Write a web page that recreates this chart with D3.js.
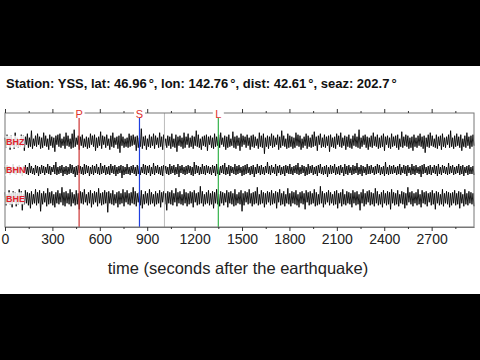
<!DOCTYPE html>
<html><head><meta charset="utf-8">
<script src="https://cdn.jsdelivr.net/npm/d3@7"></script>
<style>html,body{margin:0;padding:0;background:#000;}svg{display:block;}</style>
</head><body>
<script>
const titleParts = ["Station: YSS, lat: 46.96", "°", ", lon: 142.76", "°", ", dist: 42.61", "°", ", seaz: 202.7", "°"];
const xLabel = "time (seconds after the earthquake)";
const timeEnd = 2968;
const majorTicks = [0, 300, 600, 900, 1200, 1500, 1800, 2100, 2400, 2700];
const minorTicks = [150, 450, 750, 1050, 1350, 1650, 1950, 2250, 2550, 2850];
const channels = ["BHZ", "BHN", "BHE"];
const phaseNames = ["P", "S", "L"];
const phaseTimes = [469, 851, 1350];
const markerTime = 1009;

const bhz = [
4,-6,7,-3,5,-8,6,-4,3,-7,9,-5,4,-6,2,-5,7,-4,6,-9,
5,-3,8,-6,4,-5,11,-7,3,-4,6,-5,8,-3,5,-7,4,-6,9,-4,
6,-5,3,-8,7,-4,5,-6,4,-10,6,-3,7,-5,8,-6,3,-4,5,-7,
9,-4,6,-5,3,-7,8,-6,12,-5,4,-3,6,-8,5,-4,7,-6,3,-5,
5,-7,4,-6,8,-3,6,-5,7,-9,4,-6,5,-4,10,-7,6,-3,5,-6,
7,-4,3,-8,6,-5,9,-6,4,-3,5,-7,6,-11,8,-4,5,-6,3,-5,
4,-6,8,-5,6,-4,7,-3,5,-9,6,-6,4,-5,13,-7,5,-4,6,-8,
3,-5,7,-6,5,-4,8,-7,6,-3,4,-6,9,-5,5,-8,7,-4,3,-6,
6,-4,5,-7,8,-5,3,-6,7,-10,5,-4,6,-5,4,-7,9,-6,5,-3,
8,-6,4,-5,6,-7,5,-4,11,-5,7,-6,3,-8,5,-4,6,-5,7,-9,
5,-3,6,-6,4,-7,8,-5,5,-4,7,-6,9,-3,4,-5,6,-8,5,-6,
7,-5,3,-4,10,-6,5,-7,6,-4,4,-9,8,-5,6,-3,5,-6,7,-4,
4,-8,6,-5,7,-6,5,-4,3,-7,9,-5,6,-6,8,-12,4,-5,6,-7,
5,-4,8,-6,6,-5,4,-3,7,-8,5,-6,11,-4,6,-5,3,-7,8,-6,
6,-5,5,-7,4,-6,9,-4,7,-5,6,-8,3,-6,5,-4,8,-7,6,-5,
4,-6,7,-5,10,-4,5,-9,6,-3,8,-6,4,-5,7,-6,5,-4,6,-10,
7,-5,4,-6,5,-7,8,-3,6,-5,9,-6,4,-4,6,-8,5,-5,7,-6,
3,-7,6,-4,8,-5,5,-6,12,-7,4,-5,6,-3,7,-6,5,-8,4,-5,
6,-6,9,-4,5,-5,7,-7,4,-6,6,-5,8,-9,5,-3,6,-6,4,-7,
8,-5,5,-4,6,-6,7,-8,3,-5,10,-6,5,-4,7,-5,6,-7,4,-6,
5,-9,7,-5,4,-6,6,-4,8,-5,5,-7,6,-11,4,-5,7,-6,9,-4,
6,-5,3,-6,7,-7,5,-4,6,-8,8,-5,4,-6,5,-3,7,-6,11,-5,
4,-7,6,-5,8,-4,5,-6,7,-9,3,-5,6,-6,9,-4,5,-7,6,-5,
7,-4];
const bhn = [
3,-4,5,-2,4,-5,3,-3,6,-4,2,-5,4,-3,5,-4,3,-6,4,-3,
5,-4,3,-5,7,-3,4,-4,2,-5,5,-3,4,-6,3,-4,5,-3,4,-5,
3,-3,6,-4,4,-5,3,-2,5,-4,8,-5,3,-4,4,-3,5,-6,3,-4,
4,-5,3,-4,6,-3,5,-4,3,-7,4,-5,5,-3,4,-4,3,-5,6,-4,
5,-3,4,-6,3,-4,5,-5,4,-3,6,-4,3,-5,7,-4,4,-3,5,-5,
3,-4,4,-5,6,-3,4,-4,5,-6,3,-4,4,-3,5,-8,4,-5,3,-4,
6,-4,3,-5,4,-3,5,-4,3,-6,5,-4,4,-5,3,-3,6,-4,5,-5,
4,-3,5,-6,3,-4,7,-5,4,-3,5,-4,3,-5,4,-6,5,-3,4,-4,
3,-5,6,-4,4,-3,5,-5,3,-4,6,-7,4,-3,5,-4,3,-5,4,-4,
5,-3,4,-5,3,-6,8,-4,5,-3,4,-5,3,-4,6,-4,4,-5,5,-3,
4,-4,3,-5,5,-3,4,-6,6,-4,3,-5,4,-3,5,-4,7,-5,3,-4,
5,-6,4,-3,3,-4,6,-5,4,-4,5,-3,3,-6,4,-5,5,-4,6,-3,
3,-5,4,-4,5,-7,3,-4,6,-3,4,-5,5,-4,3,-5,4,-3,8,-4,
4,-5,5,-3,3,-4,6,-6,4,-3,5,-5,3,-4,4,-6,5,-3,4,-4,
6,-4,3,-5,4,-3,5,-4,7,-5,3,-4,5,-3,4,-6,3,-5,6,-4,
4,-3,5,-5,3,-4,4,-6,5,-3,6,-4,3,-5,4,-4,5,-7,3,-4,
5,-4,4,-3,6,-5,3,-4,4,-5,5,-3,3,-6,6,-4,4,-5,5,-3,
3,-5,5,-4,4,-3,7,-5,3,-4,5,-6,4,-3,3,-5,6,-4,4,-4,
5,-3,3,-5,4,-4,6,-3,5,-5,3,-4,4,-6,8,-4,3,-5,5,-4,
4,-4,5,-3,3,-5,4,-4,6,-5,3,-3,5,-4,4,-6,5,-3,3,-5,
6,-4,4,-5,5,-3,3,-4,4,-7,5,-4,6,-3,3,-5,4,-4,5,-5,
3,-3,5,-4,4,-6,6,-4,3,-5,5,-3,4,-4,3,-5,7,-4,4,-3,
5,-5,3,-4,4,-3,6,-5,4,-4,5,-6,3,-3,4,-5,5,-4,3,-4,
4,-5];
const bhe = [
6,-7,4,-5,8,-6,5,-9,7,-4,6,-8,5,-6,9,-5,7,-12,4,-6,
8,-5,6,-7,5,-10,7,-6,4,-5,9,-7,6,-5,8,-13,5,-6,7,-4,
5,-8,10,-6,6,-5,7,-7,4,-9,6,-5,8,-6,5,-4,11,-7,6,-8,
7,-5,5,-6,9,-8,6,-5,4,-7,8,-6,5,-11,7,-5,6,-6,9,-4,
4,-7,6,-5,8,-9,5,-6,7,-4,6,-8,10,-5,5,-7,6,-6,8,-5,
6,-14,7,-5,5,-6,8,-7,4,-5,6,-9,7,-6,5,-5,9,-8,6,-4,
8,-6,5,-7,6,-5,11,-6,7,-8,5,-4,6,-7,8,-10,4,-6,7,-5,
5,-7,9,-6,6,-5,4,-8,7,-6,5,-5,8,-9,6,-4,7,-6,5,-12,
7,-5,6,-6,8,-7,5,-4,10,-8,6,-5,7,-6,4,-7,9,-5,6,-8,
5,-6,7,-5,6,-9,8,-4,5,-7,6,-6,12,-5,7,-8,4,-6,6,-5,
8,-7,5,-6,7,-10,6,-5,9,-6,4,-8,7,-5,6,-7,5,-4,8,-9,
6,-5,7,-6,5,-8,9,-7,4,-5,6,-6,8,-13,5,-7,7,-4,6,-6,
9,-5,5,-8,6,-6,7,-5,11,-7,4,-6,8,-5,6,-9,5,-6,7,-4,
6,-7,8,-6,5,-5,7,-10,6,-4,9,-7,5,-6,7,-8,4,-5,10,-6,
5,-8,7,-5,6,-6,8,-7,4,-9,6,-5,7,-6,5,-11,8,-4,6,-7,
7,-6,5,-5,9,-8,6,-7,4,-6,12,-5,7,-9,5,-6,6,-4,8,-7,
6,-5,4,-7,7,-6,8,-10,5,-5,6,-8,9,-6,4,-7,7,-5,6,-6,
5,-9,8,-5,6,-7,7,-6,4,-12,6,-5,9,-8,5,-6,7,-4,8,-7,
6,-6,5,-8,10,-5,7,-7,4,-6,6,-9,8,-5,5,-7,7,-6,6,-11,
9,-5,6,-7,5,-6,8,-8,4,-5,7,-6,6,-10,5,-7,11,-4,6,-6,
7,-8,5,-5,6,-7,9,-6,4,-9,8,-5,6,-6,7,-8,5,-4,6,-7,
8,-6,5,-11,7,-5,6,-7,4,-6,9,-8,5,-5,7,-6,6,-9,5,-7,
6,-5,8,-7,5,-6,7,-10,6,-5,4,-8,9,-6,5,-7,7,-5,6,-6,
5,-8];
const traces = [bhz, bhn, bhe];

const W = 480, H = 360;
const svg = d3.select("body").append("svg").attr("width", W).attr("height", H);
svg.append("rect").attr("x", 0).attr("y", 0).attr("width", W).attr("height", H).attr("fill", "#000");
svg.append("rect").attr("x", 0).attr("y", 66).attr("width", W).attr("height", 228).attr("fill", "#fff");

const plotTop = 113, plotBottom = 227, plotLeft = 5, plotRight = 474;
const x = d3.scaleLinear().domain([0, timeEnd]).range([plotLeft, plotRight]);
const rowY = d3.scalePoint().domain(channels).range([141.7, 198.3]);
const amp = d3.scaleLinear().domain([-15, 15]).range([15, -15]);

// title
const title = svg.append("text").attr("x", 6).attr("y", 87.5)
  .attr("font-family", "Liberation Sans, Arial, sans-serif").attr("font-size", 13).attr("font-weight", "bold").attr("fill", "#111");
titleParts.forEach((t) => {
  const ts = title.append("tspan").text(t);
  if (t === "°") ts.attr("dx", 2);
});

// traces
const line = d3.line().x(d => d[0]).y(d => d[1]);
traces.forEach((vals, k) => {
  const dt = timeEnd / (vals.length - 1);
  const cy = rowY(channels[k]);
  const pts = vals.map((v, i) => [x(i * dt), cy + amp(v)]);
  svg.append("path").attr("d", line(pts)).attr("fill", "none").attr("stroke", "#000").attr("stroke-width", 0.9);
});

// gray marker
svg.append("line").attr("x1", x(markerTime)).attr("x2", x(markerTime)).attr("y1", plotTop).attr("y2", plotBottom)
  .attr("stroke", "#bbb").attr("stroke-width", 1);

// phase lines
const phaseColors = ["#cc3333", "#1f3fe0", "#33b24a"];
phaseTimes.forEach((t, i) => {
  svg.append("line").attr("x1", x(t)).attr("x2", x(t)).attr("y1", plotTop + 4).attr("y2", plotBottom)
    .attr("stroke", phaseColors[i]).attr("stroke-width", 1.2);
});

// frame
svg.append("rect").attr("x", plotLeft).attr("y", plotTop).attr("width", plotRight - plotLeft).attr("height", plotBottom - plotTop)
  .attr("fill", "none").attr("stroke", "#777").attr("stroke-width", 1);

// axes
const axB = d3.axisBottom(x).tickValues(majorTicks).tickSize(4).tickSizeOuter(0).tickPadding(3).tickFormat(d3.format("d"));
const gB = svg.append("g").attr("transform", `translate(0,${plotBottom})`).call(axB);
gB.select(".domain").attr("stroke", "#777");
gB.selectAll(".tick line").attr("stroke", "#333");
gB.selectAll(".tick text").attr("font-family", "Liberation Sans, Arial, sans-serif").attr("font-size", 14).attr("fill", "#222");
const gBm = svg.append("g").attr("transform", `translate(0,${plotBottom})`).call(d3.axisBottom(x).tickValues(minorTicks).tickSize(2).tickFormat(""));
gBm.select(".domain").remove();
gBm.selectAll(".tick line").attr("stroke", "#333");
const gT = svg.append("g").attr("transform", `translate(0,${plotTop})`).call(d3.axisTop(x).tickValues(majorTicks).tickSize(4).tickFormat(""));
gT.select(".domain").remove();
gT.selectAll(".tick line").attr("stroke", "#333");
const gTm = svg.append("g").attr("transform", `translate(0,${plotTop})`).call(d3.axisTop(x).tickValues(minorTicks).tickSize(2).tickFormat(""));
gTm.select(".domain").remove();
gTm.selectAll(".tick line").attr("stroke", "#333");

// phase labels
phaseNames.forEach((p, i) => {
  const px = x(phaseTimes[i]);
  svg.append("rect").attr("x", px - 5.5).attr("y", 107).attr("width", 11).attr("height", 11).attr("fill", "#fff");
  svg.append("text").attr("x", px).attr("y", 117.5).attr("text-anchor", "middle")
    .attr("font-family", "Liberation Sans, Arial, sans-serif").attr("font-size", 11).attr("fill", "#e0302a").text(p);
});

// channel labels
channels.forEach(c => {
  const cy = rowY(c);
  svg.append("rect").attr("x", plotLeft + 0.5).attr("y", cy - 6).attr("width", 19).attr("height", 12).attr("fill", "#fff").attr("opacity", 0.85);
  svg.append("text").attr("x", plotLeft + 1).attr("y", cy + 3.3).attr("font-family", "Liberation Sans, Arial, sans-serif")
    .attr("font-size", 9).attr("font-weight", "bold").attr("fill", "#e0202a").text(c);
});

// x label
svg.append("text").attr("x", 238).attr("y", 274).attr("text-anchor", "middle")
  .attr("font-family", "Liberation Sans, Arial, sans-serif").attr("font-size", 16.5).attr("fill", "#222").text(xLabel);
</script>
</body></html>
